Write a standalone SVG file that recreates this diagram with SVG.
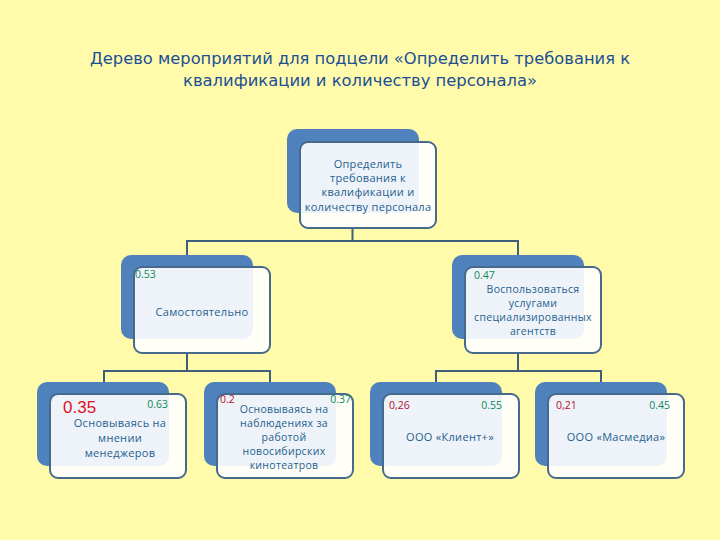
<svg xmlns="http://www.w3.org/2000/svg" width="720" height="540" viewBox="0 0 720 540">
<style>
.bg{fill:#FFFBAA}
.back{fill:#4F81BD}
.front{fill:#FFFFFF;fill-opacity:0.9;stroke:#47698C;stroke-width:2}
.conn{fill:none;stroke:#3F5F7F;stroke-width:2}
.t{font-family:"Open Sans","Liberation Sans",sans-serif;font-size:11px;letter-spacing:0.3px;fill:#1F5F8F;text-anchor:middle}
.s{font-size:10.5px}
.g{font-family:"Open Sans","Liberation Sans",sans-serif;font-size:10.5px;fill:#0E8A55}
.r{font-family:"Open Sans","Liberation Sans",sans-serif;font-size:10.5px;fill:#B0102A}
.title{font-family:"DejaVu Sans",sans-serif;font-size:15px;fill:#1B4F96;text-anchor:middle}
</style>
<rect class="bg" x="0" y="0" width="720" height="540"/>
<g id="title">
<text class="title" x="360" y="64" textLength="540" lengthAdjust="spacingAndGlyphs">Дерево мероприятий для подцели «Определить требования к</text>
<text class="title" x="360" y="86" textLength="354" lengthAdjust="spacingAndGlyphs">квалификации и количеству персонала»</text>
</g>
<g id="connectors">
<path class="conn" d="M352.5 229 V241 M187 241 H518 M187 240 V255 M518 240 V255"/>
<path class="conn" d="M187 354 V371 M104 371 H270 M104 370 V382 M270 370 V382"/>
<path class="conn" d="M518 354 V371 M436 371 H601 M436 370 V382 M601 370 V382"/>
</g>
<g id="root">
<rect class="back" x="287" y="129" width="132" height="84" rx="10"/>
<rect class="front" x="300" y="142" width="136" height="86" rx="8"/>
<text class="t" x="368" y="168">Определить</text>
<text class="t" x="368" y="182">требования к</text>
<text class="t" x="368" y="196">квалификации и</text>
<text class="t" x="368" y="211">количеству персонала</text>
</g>
<g id="self">
<rect class="back" x="121" y="255" width="132" height="84" rx="10"/>
<rect class="front" x="134" y="267" width="136" height="86" rx="8"/>
<text class="g" x="135" y="278">0.53</text>
<text class="t" x="202" y="316">Самостоятельно</text>
</g>
<g id="agency">
<rect class="back" x="452" y="255" width="132" height="84" rx="10"/>
<rect class="front" x="465" y="267" width="136" height="86" rx="8"/>
<text class="g" x="474" y="279">0.47</text>
<text class="t s" x="533" y="293">Воспользоваться</text>
<text class="t s" x="533" y="307">услугами</text>
<text class="t s" x="533" y="321">специализированных</text>
<text class="t s" x="533" y="335">агентств</text>
</g>
<g id="managers">
<rect class="back" x="37" y="382" width="132" height="84" rx="10"/>
<rect class="front" x="50" y="394" width="136" height="84" rx="8"/>
<text x="63" y="413" font-family="'Liberation Sans',sans-serif" font-size="17" fill="#E0101E">0.35</text>
<text class="g" x="168" y="408" text-anchor="end">0.63</text>
<text class="t" x="120" y="427">Основываясь на</text>
<text class="t" x="120" y="442">мнении</text>
<text class="t" x="120" y="457">менеджеров</text>
</g>
<g id="cinemas">
<rect class="back" x="204" y="382" width="132" height="84" rx="10"/>
<rect class="front" x="217" y="394" width="136" height="84" rx="8"/>
<text class="r" x="220" y="403">0.2</text>
<text class="g" x="351" y="403" text-anchor="end">0.37</text>
<text class="t s" x="284" y="413">Основываясь на</text>
<text class="t s" x="284" y="427">наблюдениях за</text>
<text class="t s" x="284" y="441">работой</text>
<text class="t s" x="284" y="455">новосибирских</text>
<text class="t s" x="284" y="469">кинотеатров</text>
</g>
<g id="client">
<rect class="back" x="370" y="382" width="132" height="84" rx="10"/>
<rect class="front" x="383" y="394" width="136" height="84" rx="8"/>
<text class="r" x="389" y="409">0,26</text>
<text class="g" x="502" y="409" text-anchor="end">0.55</text>
<text class="t" x="450" y="441">ООО «Клиент+»</text>
</g>
<g id="masmedia">
<rect class="back" x="535" y="382" width="132" height="84" rx="10"/>
<rect class="front" x="548" y="394" width="136" height="84" rx="8"/>
<text class="r" x="556" y="409">0,21</text>
<text class="g" x="670" y="409" text-anchor="end">0.45</text>
<text class="t" x="616" y="441">ООО «Масмедиа»</text>
</g>
</svg>
